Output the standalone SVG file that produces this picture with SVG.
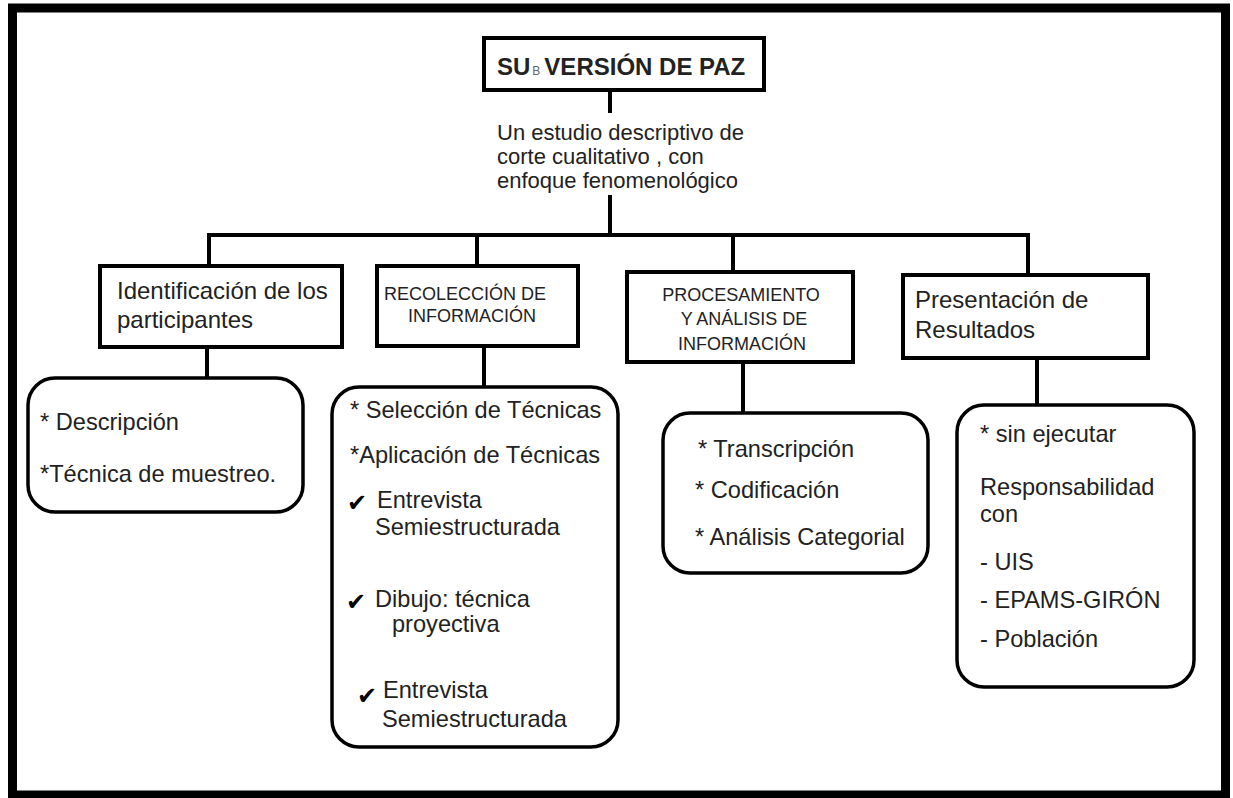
<svg xmlns="http://www.w3.org/2000/svg" width="1233" height="798" viewBox="0 0 1233 798">
<style>
.frame{fill:#fff;stroke:#000;stroke-width:9}
.box{fill:#fff;stroke:#000;stroke-width:4}
.rbox{fill:#fff;stroke:#000;stroke-width:3.5}
.con{stroke:#000;stroke-width:4;fill:none}
text{font-family:"Liberation Sans",Arial,sans-serif;fill:#222}
.t24{font-size:24px}
.t23{font-size:23.6px}
.t22{font-size:22px}
.t18{font-size:18px}
.chk{font-family:"DejaVu Sans",sans-serif;font-size:24px;fill:#000}
</style>
<rect class="frame" x="12.5" y="8" width="1213" height="787"/>
<g id="connectors">
<line class="con" x1="610" y1="90" x2="610" y2="113"/>
<line class="con" x1="610" y1="195" x2="610" y2="235"/>
<polyline class="con" points="209,266 209,235 1028,235 1028,275"/>
<line class="con" x1="477" y1="235" x2="477" y2="266"/>
<line class="con" x1="733" y1="235" x2="733" y2="272"/>
<line class="con" x1="207" y1="347" x2="207" y2="378"/>
<line class="con" x1="484" y1="346" x2="484" y2="387"/>
<line class="con" x1="743" y1="362" x2="743" y2="413"/>
<line class="con" x1="1037" y1="358" x2="1037" y2="405"/>
</g>
<g id="title">
<rect class="box" x="484" y="38" width="280" height="52"/>
<text x="497" y="75" font-size="24" font-weight="bold" fill="#111">SU<tspan font-size="12" font-weight="normal" fill="#666" dx="2">B</tspan><tspan dx="4">VERSIÓN DE PAZ</tspan></text>
</g>
<g id="description">
<text class="t22" x="497" y="140">Un estudio descriptivo de</text>
<text class="t22" x="497" y="164">corte cualitativo , con</text>
<text class="t22" x="497" y="188">enfoque fenomenológico</text>
</g>
<g id="identificacion">
<rect class="box" x="100" y="266" width="242" height="81"/>
<text class="t24" x="117" y="299">Identificación de los</text>
<text class="t24" x="117" y="328">participantes</text>
</g>
<g id="identificacion-detalle">
<rect class="rbox" x="28" y="378" width="275" height="134" rx="27"/>
<text class="t23" x="40" y="430">* Descripción</text>
<text class="t23" x="40" y="482">*Técnica de muestreo.</text>
</g>
<g id="recoleccion">
<rect class="box" x="377" y="266" width="201" height="80"/>
<text class="t18" x="384" y="300">RECOLECCIÓN DE</text>
<text class="t18" x="408" y="322">INFORMACIÓN</text>
</g>
<g id="recoleccion-detalle">
<rect class="rbox" x="332" y="387" width="286" height="360" rx="27"/>
<text class="t23" x="350" y="418">* Selección de Técnicas</text>
<text class="t23" x="350" y="463">*Aplicación de Técnicas</text>
<text class="chk" x="347" y="511">✔</text>
<text class="t23" x="377" y="508">Entrevista</text>
<text class="t23" x="375" y="535">Semiestructurada</text>
<text class="chk" x="346" y="610">✔</text>
<text class="t23" x="375" y="607">Dibujo: técnica</text>
<text class="t23" x="392" y="632">proyectiva</text>
<text class="chk" x="357" y="704">✔</text>
<text class="t23" x="383" y="698">Entrevista</text>
<text class="t23" x="382" y="727">Semiestructurada</text>
</g>
<g id="procesamiento">
<rect class="box" x="627" y="272" width="226" height="90"/>
<text class="t18" x="741" y="301" text-anchor="middle">PROCESAMIENTO</text>
<text class="t18" x="744" y="325" text-anchor="middle">Y ANÁLISIS DE</text>
<text class="t18" x="742" y="350" text-anchor="middle">INFORMACIÓN</text>
</g>
<g id="procesamiento-detalle">
<rect class="rbox" x="663" y="413" width="265" height="160" rx="27"/>
<text class="t23" x="698" y="457">* Transcripción</text>
<text class="t23" x="695" y="498">* Codificación</text>
<text class="t23" x="695" y="545">* Análisis Categorial</text>
</g>
<g id="presentacion">
<rect class="box" x="903" y="275" width="245" height="83"/>
<text class="t24" x="915" y="308">Presentación de</text>
<text class="t24" x="915" y="338">Resultados</text>
</g>
<g id="presentacion-detalle">
<rect class="rbox" x="957" y="405" width="237" height="282" rx="27"/>
<text class="t23" x="980" y="442">* sin ejecutar</text>
<text class="t23" x="980" y="495">Responsabilidad</text>
<text class="t23" x="980" y="522">con</text>
<text class="t23" x="980" y="570">- UIS</text>
<text class="t23" x="980" y="608">- EPAMS-GIRÓN</text>
<text class="t23" x="980" y="647">- Población</text>
</g>
</svg>
